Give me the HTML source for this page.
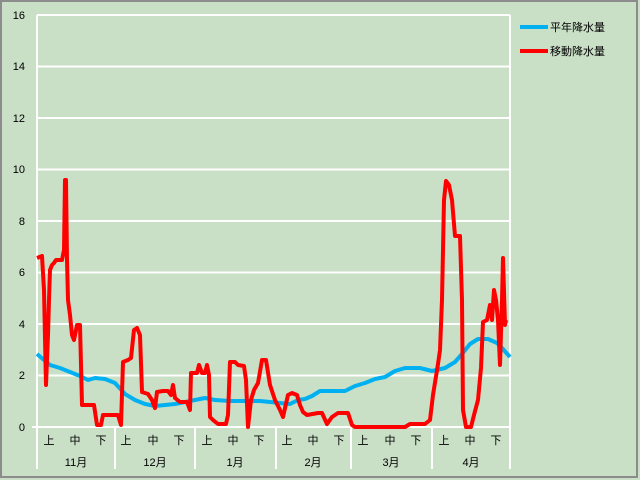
<!DOCTYPE html>
<html><head><meta charset="utf-8"><style>
body{margin:0;background:#fff}
svg{display:block}
text{font-family:"Liberation Sans","Noto Sans CJK JP",sans-serif;font-size:11px;fill:#000}
</style></head><body>
<svg width="640" height="480" viewBox="0 0 640 480">
<rect x="0" y="0" width="640" height="480" fill="#c9dfc6"/>
<rect x="1" y="1" width="636" height="476" fill="none" stroke="#8c8c8c" stroke-width="2"/>
<g stroke="#fff" stroke-width="2">
<line x1="37" y1="15" x2="510" y2="15"/>
<line x1="37" y1="66.5" x2="510" y2="66.5"/>
<line x1="37" y1="118" x2="510" y2="118"/>
<line x1="37" y1="169.5" x2="510" y2="169.5"/>
<line x1="37" y1="221" x2="510" y2="221"/>
<line x1="37" y1="272.5" x2="510" y2="272.5"/>
<line x1="37" y1="324" x2="510" y2="324"/>
<line x1="37" y1="375.5" x2="510" y2="375.5"/>
<line x1="32" y1="427" x2="510" y2="427"/>
<line x1="37" y1="15" x2="37" y2="469"/>
<line x1="510" y1="15" x2="510" y2="469"/>
<line x1="115" y1="427" x2="115" y2="469"/>
<line x1="195" y1="427" x2="195" y2="469"/>
<line x1="276" y1="427" x2="276" y2="469"/>
<line x1="351" y1="427" x2="351" y2="469"/>
<line x1="432" y1="427" x2="432" y2="469"/>
</g>
<g text-anchor="end">
<text x="25" y="431">0</text><text x="25" y="379">2</text><text x="25" y="328">4</text>
<text x="25" y="276">6</text><text x="25" y="225">8</text><text x="25" y="173">10</text>
<text x="25" y="122">12</text><text x="25" y="70">14</text><text x="25" y="19">16</text>
</g>
<g text-anchor="middle">
<text x="49" y="444">上</text><text x="75" y="444">中</text><text x="101" y="444">下</text>
<text x="126" y="444">上</text><text x="153" y="444">中</text><text x="179" y="444">下</text>
<text x="207" y="444">上</text><text x="233" y="444">中</text><text x="259" y="444">下</text>
<text x="287" y="444">上</text><text x="313" y="444">中</text><text x="339" y="444">下</text>
<text x="363" y="444">上</text><text x="390" y="444">中</text><text x="416" y="444">下</text>
<text x="444" y="444">上</text><text x="470" y="444">中</text><text x="496" y="444">下</text>
<text x="76" y="466">11月</text><text x="155" y="466">12月</text><text x="235" y="466">1月</text>
<text x="313" y="466">2月</text><text x="391" y="466">3月</text><text x="471" y="466">4月</text>
</g>
<polyline fill="none" stroke="#00b0f0" stroke-width="4" stroke-linejoin="round" points="37,354 50,365 60,368 70,372 80,376 88,380 95,378 105,379 115,383 125,394 135,400 145,404 155,406 165,405 175,404 190,401 205,398 215,400 230,401 260,401 280,403 290,404 298,400 305,399 312,396 320,391 335,391 345,391 355,386 365,383 375,379 385,377 395,371 405,368 420,368 432,371 445,368 455,362 462,354 470,344 478,339 488,339 497,343 502,348 510,357"/>
<polyline fill="none" stroke="#ff0000" stroke-width="4" stroke-linejoin="round" points="37,258 42,256 44,290 46,385 48,335 49,300 50,270 52,265 54,263 56,260 62,260 64,250 65,180 66,180 67,260 68,300 70,315 72,335 74,340 77,325 80,325 82,405 94,405 97,425 101,425 103,415 118,415 121,425 123,362 128,360 131,358 134,330 137,328 140,335 142,392 148,394 152,400 155,408 157,392 163,391 168,391 171,395 173,385 175,398 180,402 187,402 190,410 191,373 197,373 199,365 202,373 205,373 207,365 209,375 210,417 213,420 218,424 226,424 228,415 230,362 235,362 238,365 244,366 246,380 248,427 251,400 254,390 258,383 262,360 266,360 270,385 275,400 280,410 283,417 288,395 292,393 297,395 300,405 303,412 307,415 318,413 322,413 327,424 332,417 338,413 348,413 352,425 355,427 405,427 410,424 425,424 430,420 433,395 438,364 440,350 442,300 444,200 446,181 449,185 452,200 455,236 460,236 462,300 463,410 466,427 471,427 474,415 478,400 481,368 483,322 487,320 490,305 492,320 494,290 496,300 498,320 500,365 502,300 503,258 505,325 506,320"/>
<line x1="520" y1="27" x2="548" y2="27" stroke="#00b0f0" stroke-width="4"/>
<line x1="520" y1="51" x2="548" y2="51" stroke="#ff0000" stroke-width="4"/>
<text x="550" y="31">平年降水量</text>
<text x="550" y="55">移動降水量</text>
</svg>
</body></html>
